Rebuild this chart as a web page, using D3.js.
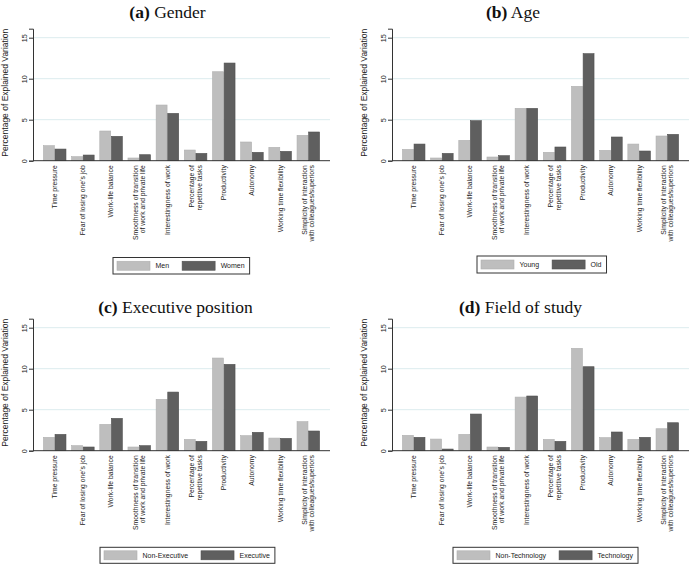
<!DOCTYPE html>
<html>
<head>
<meta charset="utf-8">
<script src="https://cdn.jsdelivr.net/npm/d3@7"></script>
<style>
  html, body { margin: 0; padding: 0; background: #fff; }
  svg { display: block; }
</style>
</head>
<body>
<svg id="chart" width="690" height="564"></svg>
<script>
// ---------------- DATA ----------------
const categories = [
  ["Time pressure"],
  ["Fear of losing one's job"],
  ["Work-life balance"],
  ["Smoothness of transition", "of work and private life"],
  ["Interestingness of work"],
  ["Percentage of", "repetitive tasks"],
  ["Productivity"],
  ["Autonomy"],
  ["Working time flexibility"],
  ["Simplicity of interaction", "with colleagues/superiors"]
];
const yTicks = [0, 5, 10, 15];
const yMax = 16.1;

const genderLabels = ["Men", "Women"];
const genderMen   = [1.83, 0.49, 3.62, 0.33, 6.79, 1.30, 10.85, 2.28, 1.63, 3.09];
const genderWomen = [1.42, 0.69, 2.97, 0.73, 5.77, 0.89, 11.91, 1.02, 1.14, 3.50];

const ageLabels = ["Young", "Old"];
const ageYoung = [1.38, 0.33, 2.48, 0.45, 6.38, 1.02, 9.07, 1.26, 2.03, 3.01];
const ageOld   = [2.03, 0.89, 4.88, 0.61, 6.38, 1.67, 13.05, 2.89, 1.18, 3.21];

const execLabels = ["Non-Executive", "Executive"];
const execNon = [1.63, 0.61, 3.21, 0.45, 6.26, 1.38, 11.30, 1.83, 1.54, 3.54];
const execYes = [1.99, 0.45, 3.94, 0.61, 7.15, 1.14, 10.53, 2.24, 1.50, 2.40];

const fieldLabels = ["Non-Technology", "Technology"];
const fieldNon  = [1.87, 1.42, 1.99, 0.45, 6.54, 1.38, 12.48, 1.59, 1.38, 2.68];
const fieldTech = [1.63, 0.20, 4.47, 0.41, 6.67, 1.14, 10.24, 2.28, 1.63, 3.41];

const panelTags   = ["(a)", "(b)", "(c)", "(d)"];
const panelTitles = ["Gender", "Age", "Executive position", "Field of study"];
const yTitle = "Percentage of Explained Variation";

// ---------------- LAYOUT / STYLE ----------------
const colors = ["#bebebe", "#5f5f5f"];
const strokes = ["#b0b0b0", "#505050"];
const sans = "'Liberation Sans', Arial, sans-serif";
const serif = "'Liberation Serif', 'Times New Roman', serif";

const panels = [
  { tag: panelTags[0], title: panelTitles[0], series: [genderMen, genderWomen], names: genderLabels,
    left: 33, right: 330, y0: 160.7, titleX: 167.5, titleY: 18, legX: 113, legY: 257.5, legH: 16.5 },
  { tag: panelTags[1], title: panelTitles[1], series: [ageYoung, ageOld], names: ageLabels,
    left: 392, right: 689, y0: 160.7, titleX: 513, titleY: 18, legX: 477, legY: 256, legH: 17 },
  { tag: panelTags[2], title: panelTitles[2], series: [execNon, execYes], names: execLabels,
    left: 33, right: 330, y0: 450.7, titleX: 175.5, titleY: 313, legX: 100, legY: 547.3, legH: 16 },
  { tag: panelTags[3], title: panelTitles[3], series: [fieldNon, fieldTech], names: fieldLabels,
    left: 392, right: 689, y0: 450.7, titleX: 520.5, titleY: 313, legX: 453, legY: 547.3, legH: 16 }
];

const svg = d3.select("#chart");
svg.append("rect").attr("width", 690).attr("height", 564).attr("fill", "#fff");

const pxPerUnit = 8.2;
const catKeys = categories.map((c, i) => i);

panels.forEach(p => {
  const g = svg.append("g");
  const y = d3.scaleLinear().domain([0, yMax]).range([p.y0, p.y0 - yMax * pxPerUnit]);
  const x0 = d3.scaleBand().domain(catKeys).range([p.left, p.right]).paddingInner(0.2).paddingOuter(0.37);
  const x1 = d3.scaleBand().domain([0, 1]).range([0, x0.bandwidth()]).paddingInner(0.06);

  // gridlines
  g.append("g").selectAll("line").data(yTicks.filter(t => t > 0)).join("line")
    .attr("x1", p.left).attr("x2", p.right)
    .attr("y1", d => y(d)).attr("y2", d => y(d))
    .attr("stroke", "#dcecee").attr("stroke-width", 1);

  // bars
  const groups = g.append("g").selectAll("g").data(catKeys).join("g")
    .attr("transform", i => `translate(${x0(i)},0)`);
  groups.selectAll("rect").data(i => p.series.map((s, k) => ({ k, v: s[i] }))).join("rect")
    .attr("x", d => x1(d.k))
    .attr("width", x1.bandwidth())
    .attr("y", d => y(d.v))
    .attr("height", d => y(0) - y(d.v))
    .attr("fill", d => colors[d.k])
    .attr("stroke", d => strokes[d.k])
    .attr("stroke-width", 0.6);

  // y axis
  const yAxis = d3.axisLeft(y).tickValues(yTicks).tickSize(4).tickFormat(d3.format("d"));
  const ya = g.append("g").attr("transform", `translate(${p.left},0)`).call(yAxis);
  ya.select(".domain").attr("stroke", "#333").attr("stroke-width", 1);
  ya.selectAll(".tick line").attr("stroke", "#333");
  ya.selectAll(".tick text")
    .attr("x", null).attr("dy", null)
    .attr("transform", "translate(-6.5,0) rotate(-90)")
    .attr("text-anchor", "middle")
    .attr("font-family", sans).attr("font-size", 7.2).attr("fill", "#222");

  // x axis line
  g.append("line").attr("x1", p.left).attr("x2", p.right)
    .attr("y1", y(0)).attr("y2", y(0)).attr("stroke", "#333").attr("stroke-width", 1);

  // category labels
  const lab = g.append("g").selectAll("text").data(catKeys).join("text")
    .attr("transform", i => `translate(${x0(i) + x0.bandwidth() / 2},${p.y0 + 4.5}) rotate(-90)`)
    .attr("text-anchor", "end")
    .attr("font-family", sans).attr("font-size", 6.8).attr("fill", "#222");
  lab.each(function (i) {
    const lines = categories[i];
    const n = lines.length;
    d3.select(this).selectAll("tspan").data(lines).join("tspan")
      .attr("x", 0)
      .attr("y", (d, j) => (j - (n - 1) / 2) * 7.3 + 2.4)
      .text(d => d);
  });

  // y title
  g.append("text")
    .attr("transform", `translate(${p.left - 25.5},${(y(yMax) + y(0)) / 2 - 2}) rotate(-90)`)
    .attr("text-anchor", "middle")
    .attr("font-family", sans).attr("font-size", 8.5).attr("fill", "#222")
    .text(yTitle);

  // panel title
  const t = g.append("text")
    .attr("x", p.titleX).attr("y", p.titleY)
    .attr("text-anchor", "middle")
    .attr("font-family", serif).attr("font-size", 17.5).attr("fill", "#111");
  t.append("tspan").attr("font-weight", "bold").text(p.tag);
  t.append("tspan").text(" " + p.title);

  // legend
  const leg = g.append("g");
  const box = leg.append("rect")
    .attr("x", p.legX).attr("y", p.legY).attr("height", p.legH)
    .attr("fill", "#fff").attr("stroke", "#333").attr("stroke-width", 1);
  let cx = p.legX + 4;
  const cy = p.legY + p.legH / 2;
  p.names.forEach((name, k) => {
    leg.append("rect").attr("x", cx).attr("y", cy - 4.5).attr("width", 33).attr("height", 9)
      .attr("fill", colors[k]).attr("stroke", strokes[k]).attr("stroke-width", 0.6);
    cx += 33 + 5.5;
    const tx = leg.append("text").attr("x", cx).attr("y", cy + 2.5)
      .attr("font-family", sans).attr("font-size", 7).attr("fill", "#222").text(name);
    cx += tx.node().getComputedTextLength();
    if (k < p.names.length - 1) cx += 13;
  });
  box.attr("width", cx + 5 - p.legX);
});
</script>
</body>
</html>
